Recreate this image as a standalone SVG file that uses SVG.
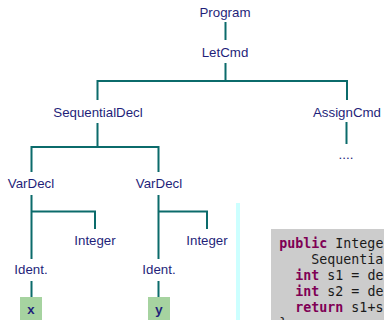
<svg xmlns="http://www.w3.org/2000/svg" width="384" height="320" viewBox="0 0 384 320">
<style>
.lbl{font-family:"Liberation Sans",Arial,sans-serif;font-size:13.3px;fill:#1f1f7a;text-anchor:middle}
.conn{fill:none;stroke:#0b6b6b;stroke-width:2}
.leaf{fill:#a6d3a0}
.leaft{font-family:"Liberation Mono","Courier New",monospace;font-weight:bold;font-size:13px;fill:#1f1f7a;text-anchor:middle}
.code{font-family:"DejaVu Sans Mono",monospace;font-size:13.3px;fill:#1a1a1a;white-space:pre}
.kw{fill:#7f0055;font-weight:bold}
</style>
<rect x="236" y="203" width="4" height="117" fill="#ccffff"/>
<rect x="271" y="229" width="113" height="91" fill="#cccccc"/>
<g id="code">
<text class="code" x="279.3" y="248" xml:space="preserve"><tspan class="kw">public</tspan> Integer</text>
<text class="code" x="279.3" y="264" xml:space="preserve">    Sequential</text>
<text class="code" x="279.3" y="280" xml:space="preserve">  <tspan class="kw">int</tspan> s1 = dec</text>
<text class="code" x="279.3" y="296" xml:space="preserve">  <tspan class="kw">int</tspan> s2 = dec</text>
<text class="code" x="279.3" y="312" xml:space="preserve">  <tspan class="kw">return</tspan> s1+s2</text>
<text class="code" x="279.3" y="328" xml:space="preserve">}</text>
</g>
<g id="connectors">
<path class="conn" d="M225.5 22V40"/>
<path class="conn" d="M225.5 63V81M97.5 100V81H347V100"/>
<path class="conn" d="M97.5 123V147M31.5 172V147H158.5V172"/>
<path class="conn" d="M346.5 122V144"/>
<path class="conn" d="M31.5 195V259M31.5 211.5H95V229"/>
<path class="conn" d="M158.5 195V259M158.5 211.5H207V229"/>
<path class="conn" d="M31.5 281V297M158.5 281V297"/>
</g>
<g id="n-program"><text class="lbl" x="225" y="17">Program</text></g>
<g id="n-letcmd"><text class="lbl" x="225" y="57">LetCmd</text></g>
<g id="n-seqdecl"><text class="lbl" x="98" y="117">SequentialDecl</text></g>
<g id="n-assigncmd"><text class="lbl" x="347" y="117">AssignCmd</text></g>
<g id="n-dots"><text class="lbl" x="346" y="159">....</text></g>
<g id="n-vardecl1"><text class="lbl" x="31" y="188">VarDecl</text></g>
<g id="n-vardecl2"><text class="lbl" x="159" y="188">VarDecl</text></g>
<g id="n-integer1"><text class="lbl" x="95" y="245">Integer</text></g>
<g id="n-integer2"><text class="lbl" x="207" y="245">Integer</text></g>
<g id="n-ident1"><text class="lbl" x="31" y="274">Ident.</text></g>
<g id="n-ident2"><text class="lbl" x="159" y="274">Ident.</text></g>
<g id="n-x"><rect class="leaf" x="20" y="297" width="22" height="24"/><text class="leaft" x="31" y="314">x</text></g>
<g id="n-y"><rect class="leaf" x="148" y="297" width="22" height="24"/><text class="leaft" x="159" y="314">y</text></g>
</svg>
